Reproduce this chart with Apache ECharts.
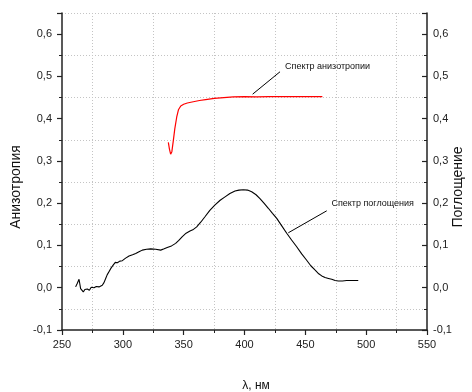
<!DOCTYPE html>
<html><head><meta charset="utf-8">
<script src="https://cdn.jsdelivr.net/npm/echarts@6/dist/echarts.min.js"></script>
<style>html,body{margin:0;padding:0;background:#fff}#c{width:472px;height:392px}</style>
</head><body><div id="c"></div>
<script>
// Absorption spectrum (black)
const absorption = [[261.2,0.002],[262.5,0.010],[264,0.020],[265.3,-0.002],[266.3,0.002],[267.5,-0.010],[268.8,-0.004],[270.8,-0.003],[272.5,-0.006],[274,0.001],[276.3,0.000],[278.2,0.003],[280.4,0.002],[281.8,0.006],[283.1,0.006],[284.5,0.012],[285.9,0.022],[287.2,0.031],[288.6,0.038],[290.4,0.047],[292.2,0.054],[293.8,0.060],[295.5,0.059],[297.5,0.063],[299.6,0.064],[302.3,0.070],[305.1,0.075],[308,0.078],[310.6,0.081],[313.3,0.085],[316.0,0.089],[319.5,0.091],[322.9,0.092],[327,0.091],[331.1,0.089],[334,0.092],[336.5,0.095],[340,0.099],[343.4,0.105],[346,0.112],[348.9,0.121],[352,0.129],[355.2,0.134],[357.5,0.137],[360.7,0.144],[364,0.155],[367.5,0.168],[371.5,0.183],[375.8,0.196],[380,0.207],[384,0.215],[388,0.223],[392.2,0.229],[395.5,0.231],[399.0,0.232],[402.5,0.231],[405.9,0.227],[409.5,0.220],[412.7,0.211],[416,0.200],[419.6,0.188],[423,0.176],[426.5,0.164],[430.5,0.147],[434.7,0.129],[438.7,0.113],[442.9,0.097],[447,0.080],[451.1,0.065],[454.5,0.052],[457.9,0.042],[461,0.033],[463.5,0.028],[466.2,0.024],[469,0.022],[471.7,0.020],[474.5,0.017],[477.1,0.016],[480.5,0.016],[484,0.017],[488,0.017],[493.5,0.017]];
// Anisotropy spectrum (red)
const anisotropy = [[337.4,0.344],[338.3,0.328],[339.3,0.316],[340.3,0.322],[341.5,0.348],[342.7,0.376],[344.3,0.404],[345.7,0.421],[347.6,0.430],[350,0.434],[353,0.437],[357.9,0.440],[363,0.443],[368,0.445],[375.2,0.448],[383,0.450],[390.8,0.4515],[400,0.452],[410,0.4515],[420,0.452],[430,0.452],[440,0.452],[450,0.452],[464,0.452]];
// Annotations (data coordinates)
const anisoLabel = 'Спектр анизотропии';
const anisoLeader = [[406.7,0.458],[429.2,0.511]];
const anisoText = [433.3,0.524];
const absLabel = 'Спектр поглощения';
const absLeader = [[436.0,0.130],[467.6,0.182]];
const absText = [471.4,0.1995];
// Axis settings
const xRange = [250, 550], xStep = 50;
const yRange = [-0.1, 0.65], yStep = 0.1;
const yTitleLeft = 'Анизотропия', yTitleRight = 'Поглощение', xTitle = 'λ, нм';

const FONT = '"Liberation Sans", Arial, sans-serif';
const chart = echarts.init(document.getElementById('c'), null, {renderer:'canvas'});
const yFmt = v => v > 0.61 ? '' : v.toFixed(1).replace('.', ',');
const axisLine = {show:true, onZero:false, lineStyle:{color:'#222', width:1.5}};
function yAxis(pos){
  const right = pos === 'right';
  return {
    type:'value', position:pos, min:yRange[0], max:yRange[1], interval:yStep,
    axisLine, 
    axisTick:{show:true, inside:right, length:5, lineStyle:{color:'#222', width:1.2}},
    minorTick:{show:true, splitNumber:2, length:3, lineStyle:{color:'#222', width:1}},
    splitLine:{show:false},
    minorSplitLine:{show:!right, lineStyle:{color:'#c4c4c4', type:[1,2], width:1}},
    axisLabel:{formatter:yFmt, color:'#222', fontSize:11, fontFamily:FONT, margin: right ? 6 : 10}
  };
}
chart.setOption({
  animation:false,
  backgroundColor:'#fff',
  grid:{left:62, right:45, top:13, bottom:62, containLabel:false},
  xAxis:{
    type:'value', min:xRange[0], max:xRange[1], interval:xStep,
    axisLine,
    axisTick:{show:true, inside:false, length:5, lineStyle:{color:'#222', width:1.2}},
    minorTick:{show:true, splitNumber:2, length:3, lineStyle:{color:'#222', width:1}},
    splitLine:{show:false},
    minorSplitLine:{show:true, lineStyle:{color:'#c4c4c4', type:[1,2], width:1}},
    axisLabel:{color:'#222', fontSize:11, fontFamily:FONT, margin:9}
  },
  yAxis:[yAxis('left'), yAxis('right')],
  graphic:[
    {type:'text', x:16, y:187, rotation:Math.PI/2, style:{text:yTitleLeft, fill:'#111', font:'14px '+FONT, textAlign:'center', textVerticalAlign:'middle'}},
    {type:'text', x:458, y:187, rotation:Math.PI/2, style:{text:yTitleRight, fill:'#111', font:'14px '+FONT, textAlign:'center', textVerticalAlign:'middle'}},
    {type:'text', x:256, y:386, style:{text:xTitle, fill:'#111', font:'12px '+FONT, textAlign:'center', textVerticalAlign:'middle'}}
  ],
  series:[
    {
      type:'line', yAxisIndex:1, data:absorption, showSymbol:false, symbol:'none',
      lineStyle:{color:'#000', width:1.1},
      markLine:{silent:true, symbol:'none', label:{show:false}, lineStyle:{color:'#000', width:1, type:'solid'},
        data:[[{coord:absLeader[0]},{coord:absLeader[1]}]]},
      markPoint:{silent:true, symbol:'circle', symbolSize:0.1, itemStyle:{color:'rgba(0,0,0,0)'},
        label:{show:true, position:'right', distance:0, formatter:absLabel, color:'#111', fontSize:9, fontFamily:FONT},
        data:[{coord:absText}]}
    },
    {
      type:'line', yAxisIndex:0, data:anisotropy, showSymbol:false, symbol:'none',
      lineStyle:{color:'#ff0000', width:1.2},
      markLine:{silent:true, symbol:'none', label:{show:false}, lineStyle:{color:'#000', width:1, type:'solid'},
        data:[[{coord:anisoLeader[0]},{coord:anisoLeader[1]}]]},
      markPoint:{silent:true, symbol:'circle', symbolSize:0.1, itemStyle:{color:'rgba(0,0,0,0)'},
        label:{show:true, position:'right', distance:0, formatter:anisoLabel, color:'#111', fontSize:9, fontFamily:FONT},
        data:[{coord:anisoText}]}
    }
  ]
});
</script></body></html>
